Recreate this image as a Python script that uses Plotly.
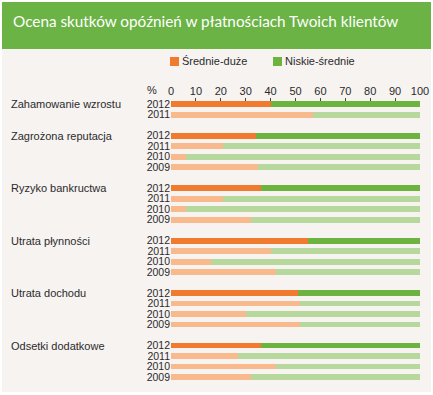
import plotly.graph_objects as go

W, H = 433, 395

title = "Ocena skutków opóźnień w płatnościach Twoich klientów"
categories = ["Zahamowanie wzrostu", "Zagrożona reputacja", "Ryzyko bankructwa",
              "Utrata płynności", "Utrata dochodu", "Odsetki dodatkowe"]
years = [["2012", "2011"],
         ["2012", "2011", "2010", "2009"],
         ["2012", "2011", "2010", "2009"],
         ["2012", "2011", "2010", "2009"],
         ["2012", "2011", "2010", "2009"],
         ["2012", "2011", "2010", "2009"]]
# share "Średnie-duże" (orange) per category and year
sredni_duze = [[40, 57],
               [34, 21, 6, 35],
               [36, 21, 6, 32],
               [55, 40, 16, 42],
               [51, 52, 30, 52],
               [36, 27, 42, 32]]
# share "Niskie-średnie" (green)
niskie_srednie = [[60, 43],
                  [66, 79, 94, 65],
                  [64, 79, 94, 68],
                  [45, 60, 84, 58],
                  [49, 48, 70, 48],
                  [64, 73, 58, 68]]
x_ticks = [0, 10, 20, 30, 40, 50, 60, 70, 80, 90, 100]
legend_names = ["Średnie-duże", "Niskie-średnie"]

ORANGE, ORANGE_L = "#f07a2e", "#f8b98c"
GREEN, GREEN_L = "#6cb33f", "#b6d89c"
FONT = "Liberation Sans, Arial, sans-serif"
TXT = "#2b2b2b"

def X(px):
    return px / W

def Y(py):
    return 1 - py / H

# build row slots: one blank slot between groups
pos_dark, pos_light = [], []
od, gd, ol, gl = [], [], [], []
tickvals, ticktext, group_pos = [], [], []
slot = 0
for gi, cat in enumerate(categories):
    group_pos.append(slot)
    for yi, yr in enumerate(years[gi]):
        tickvals.append(slot)
        ticktext.append(yr)
        if yr == "2012":
            pos_dark.append(slot)
            od.append(sredni_duze[gi][yi])
            gd.append(niskie_srednie[gi][yi])
        else:
            pos_light.append(slot)
            ol.append(sredni_duze[gi][yi])
            gl.append(niskie_srednie[gi][yi])
        slot += 1
    slot += 1

fig = go.Figure()
bw = 0.55
fig.add_trace(go.Bar(y=pos_dark, x=od, orientation="h", marker_color=ORANGE,
                     width=bw, name=legend_names[0], showlegend=False))
fig.add_trace(go.Bar(y=pos_light, x=ol, orientation="h", marker_color=ORANGE_L,
                     width=bw, name=legend_names[0], showlegend=False))
fig.add_trace(go.Bar(y=pos_dark, x=gd, orientation="h", marker_color=GREEN,
                     width=bw, name=legend_names[1], showlegend=False))
fig.add_trace(go.Bar(y=pos_light, x=gl, orientation="h", marker_color=GREEN_L,
                     width=bw, name=legend_names[1], showlegend=False))
fig.update_traces(marker_line_width=0)

shapes = [
    dict(type="rect", xref="paper", yref="paper", x0=X(2), x1=X(431), y0=Y(49), y1=Y(392),
         fillcolor="#f6f3f1", line_width=0, layer="below"),
    dict(type="rect", xref="paper", yref="paper", x0=X(2), x1=X(431), y0=Y(2), y1=Y(49),
         fillcolor="#6ab344", line_width=0, layer="below"),
    dict(type="rect", xref="paper", yref="paper", x0=X(170), x1=X(179), y0=Y(57), y1=Y(66),
         fillcolor=ORANGE, line_width=0),
    dict(type="rect", xref="paper", yref="paper", x0=X(273), x1=X(282), y0=Y(57), y1=Y(66),
         fillcolor=GREEN, line_width=0),
]

annotations = [
    dict(text=title, xref="paper", yref="paper", x=X(11), y=Y(21), xanchor="left",
         yanchor="middle", showarrow=False,
         font=dict(family="Lato, sans-serif", size=15.3, color="white")),
    dict(text=legend_names[0], xref="paper", yref="paper", x=X(180), y=Y(61.5), xanchor="left",
         yanchor="middle", showarrow=False, font=dict(family=FONT, size=11, color=TXT)),
    dict(text=legend_names[1], xref="paper", yref="paper", x=X(283), y=Y(61.5), xanchor="left",
         yanchor="middle", showarrow=False, font=dict(family=FONT, size=11, color=TXT)),
    dict(text="%", xref="paper", yref="paper", x=X(152), y=Y(90), xanchor="center",
         yanchor="middle", showarrow=False, font=dict(family=FONT, size=11, color=TXT)),
]
for gi, cat in enumerate(categories):
    annotations.append(dict(text=cat, xref="paper", yref="y", x=X(9), y=group_pos[gi],
                            xanchor="left", yanchor="middle", showarrow=False,
                            font=dict(family=FONT, size=11, color=TXT)))

fig.update_layout(
    width=W, height=H, margin=dict(l=0, r=0, t=0, b=0),
    paper_bgcolor="white", plot_bgcolor="rgba(0,0,0,0)",
    barmode="stack", bargap=0, showlegend=False,
    shapes=shapes, annotations=annotations,
    font=dict(family=FONT, size=11, color=TXT),
    xaxis=dict(domain=[X(171), X(420)], range=[0, 100], side="top", tickvals=x_ticks,
               ticks="inside", ticklen=3, tickcolor="#444", tickwidth=1,
               showgrid=False, zeroline=False, showline=False, automargin=False,
               tickfont=dict(family=FONT, size=11, color=TXT)),
    yaxis=dict(domain=[Y(383.3), Y(98)], range=[26.6, -0.6], tickvals=tickvals,
               ticktext=ticktext, showgrid=False, zeroline=False, showline=False,
               ticks="", automargin=False,
               tickfont=dict(family=FONT, size=10.5, color=TXT)),
)

fig.write_html("out.html", config={"displayModeBar": False},
               post_script="document.body.style.margin='0';document.body.style.overflow='hidden';")
